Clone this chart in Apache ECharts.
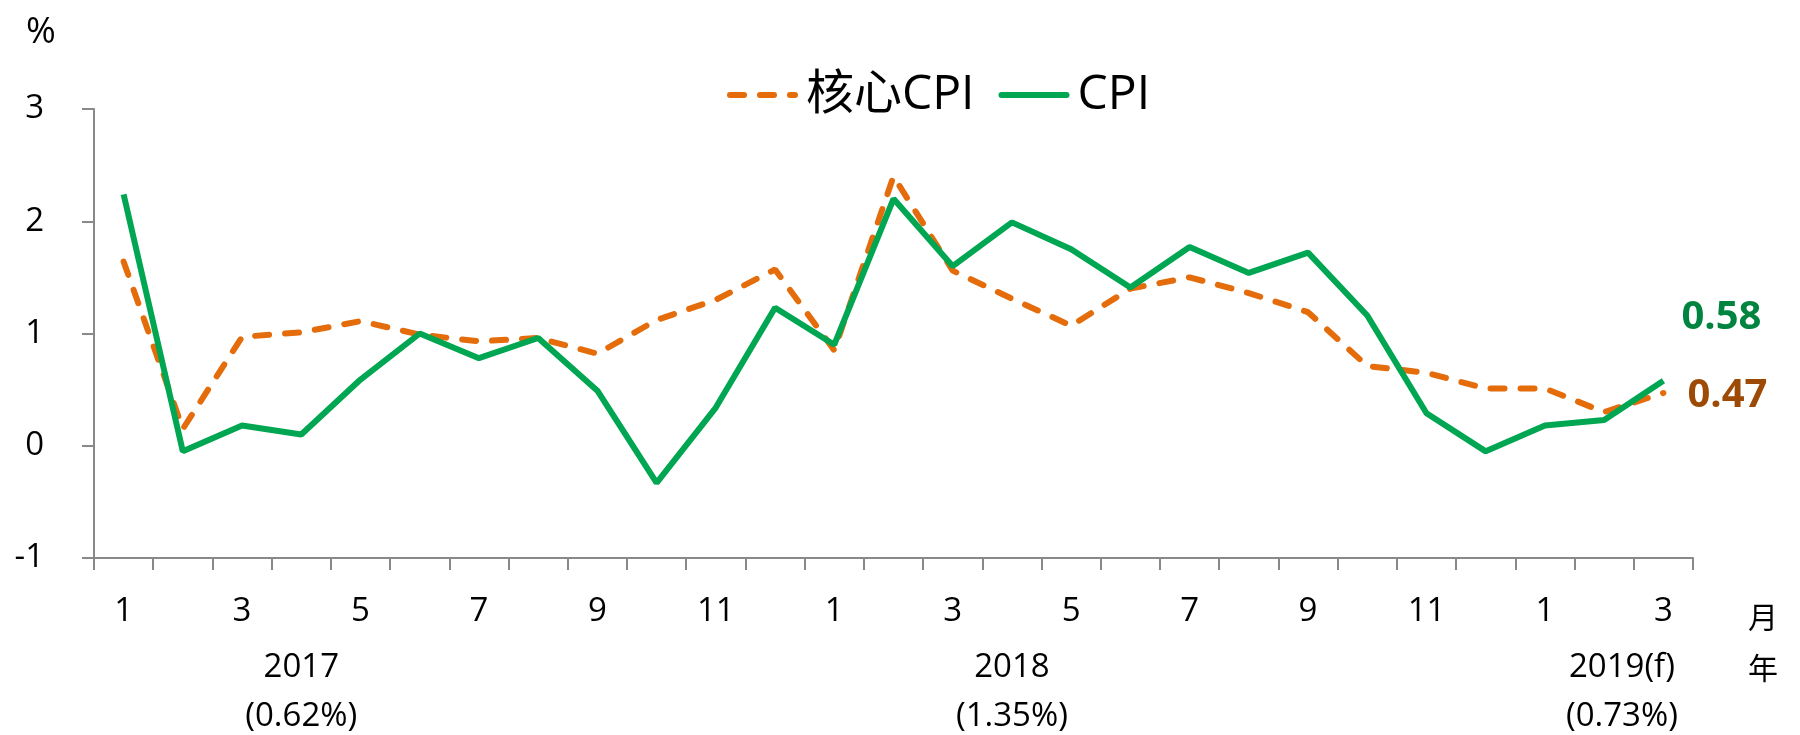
<!DOCTYPE html>
<html><head><meta charset="utf-8">
<script src="https://cdn.jsdelivr.net/npm/echarts@6/dist/echarts.min.js"></script>
<style>html,body{margin:0;padding:0;background:#fff}#c{width:1800px;height:735px}</style>
</head><body><div id="c"></div>
<script>
const months = ['1','2','3','4','5','6','7','8','9','10','11','12','1','2','3','4','5','6','7','8','9','10','11','12','1','2','3'];
const coreCPI = [1.64,0.15,0.97,1.01,1.11,0.99,0.93,0.96,0.82,1.12,1.30,1.57,0.85,2.40,1.56,1.31,1.07,1.40,1.50,1.36,1.19,0.71,0.65,0.51,0.51,0.30,0.47];
const cpi = [2.24,-0.05,0.18,0.10,0.59,1.00,0.78,0.96,0.49,-0.33,0.34,1.23,0.90,2.20,1.60,1.99,1.75,1.41,1.77,1.54,1.72,1.16,0.29,-0.05,0.18,0.23,0.58];
const yearLabels = [['2017','(0.62%)',3],['2018','(1.35%)',15],['2019(f)','(0.73%)',25.3]];
const FONT = "'Open Sans','Noto Sans CJK TC',sans-serif";
const chart = echarts.init(document.getElementById('c'));
const option = {
  animation:false,
  textStyle:{fontFamily:FONT},
  grid:{left:94,right:107,top:109,bottom:177},
  legend:{
    left:722, top:66, itemWidth:65, itemHeight:16, itemGap:24,
    itemStyle:{opacity:0},
    lineStyle:{width:6,cap:'round'},
    textStyle:{fontSize:48,color:'#000',fontFamily:FONT,padding:[0,0,0,6]},
    data:['核心CPI','CPI']
  },
  xAxis:{
    type:'category', data:months, boundaryGap:true,
    axisLine:{onZero:false,lineStyle:{color:'#898989',width:2}},
    axisTick:{show:true,interval:0,length:12,lineStyle:{color:'#898989',width:2}},
    axisLabel:{interval:1,margin:37,fontSize:33,color:'#000',fontFamily:FONT}
  },
  yAxis:{
    type:'value', min:-1, max:3, interval:1,
    splitLine:{show:false},
    axisLine:{show:true,lineStyle:{color:'#898989',width:2}},
    axisTick:{show:true,length:12,lineStyle:{color:'#898989',width:2}},
    axisLabel:{margin:50,fontSize:33,color:'#000',fontFamily:FONT}
  },
  series:[
    {name:'核心CPI',type:'line',data:coreCPI,showSymbol:false,symbol:'none',
     lineStyle:{color:'#E46C0A',width:6,type:[14,16],cap:'round'},
     itemStyle:{color:'#E46C0A'},
     endLabel:{show:true,formatter:p=>p.value.toFixed(2),offset:[16,3],fontSize:40,fontWeight:'bold',color:'#9C4A06',fontFamily:FONT}
    },
    {name:'CPI',type:'line',data:cpi,showSymbol:false,symbol:'none',
     lineStyle:{color:'#00A651',width:6},
     itemStyle:{color:'#00A651'},
     endLabel:{show:true,formatter:p=>p.value.toFixed(2),offset:[10,-63],fontSize:40,fontWeight:'bold',color:'#00843F',fontFamily:FONT}
    }
  ]
};
chart.setOption(option);
const g = [];
g.push({type:'text',left:26,top:15,style:{text:'%',fontSize:36,fill:'#000',fontFamily:FONT}});
g.push({type:'text',left:1748,top:604,style:{text:'月',fontSize:30,fill:'#000',fontFamily:FONT}});
g.push({type:'text',left:1748,top:655,style:{text:'年',fontSize:30,fill:'#000',fontFamily:FONT}});
yearLabels.forEach(([y,p,idx])=>{
  const lo = chart.convertToPixel({xAxisIndex:0}, Math.floor(idx));
  const hi = chart.convertToPixel({xAxisIndex:0}, Math.ceil(idx));
  const x = lo + (hi-lo)*(idx-Math.floor(idx));
  g.push({type:'text',x:x,y:668,style:{text:y,fontSize:33,fill:'#000',align:'center',verticalAlign:'middle',fontFamily:FONT}});
  g.push({type:'text',x:x,y:717,style:{text:p,fontSize:33,fill:'#000',align:'center',verticalAlign:'middle',fontFamily:FONT}});
});
chart.setOption({graphic:g});
</script></body></html>
